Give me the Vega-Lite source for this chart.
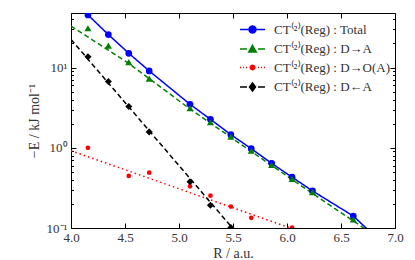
{
  "$schema": "https://vega.github.io/schema/vega-lite/v6.json",
  "width": 324,
  "height": 215,
  "autosize": "none",
  "padding": {"left": 71, "top": 13, "right": 20, "bottom": 32},
  "background": "white",
  "config": {
    "view": {"stroke": "#000", "strokeWidth": 1},
    "font": "Liberation Serif",
    "axis": {"domain": false, "grid": false, "labelFont": "Liberation Serif", "labelFontSize": 13, "labelColor": "#333", "titleFont": "Liberation Serif", "titleFontSize": 14, "titleFontWeight": "normal", "titleColor": "#333", "tickColor": "#000", "tickWidth": 1, "labelFlush": false, "labelOverlap": false}
  },
  "datasets": {
    "pts": [
      {"series": "Total", "R": 4.157, "E": 45.4},
      {"series": "Total", "R": 4.346, "E": 25.8},
      {"series": "Total", "R": 4.535, "E": 15.1},
      {"series": "Total", "R": 4.724, "E": 9.1},
      {"series": "Total", "R": 5.102, "E": 3.49},
      {"series": "Total", "R": 5.291, "E": 2.27},
      {"series": "Total", "R": 5.480, "E": 1.46},
      {"series": "Total", "R": 5.669, "E": 0.976},
      {"series": "Total", "R": 5.858, "E": 0.64},
      {"series": "Total", "R": 6.047, "E": 0.43},
      {"series": "Total", "R": 6.236, "E": 0.29},
      {"series": "Total", "R": 6.614, "E": 0.141},
      {"series": "D→A", "R": 4.157, "E": 31},
      {"series": "D→A", "R": 4.346, "E": 18.8},
      {"series": "D→A", "R": 4.535, "E": 11.7},
      {"series": "D→A", "R": 4.724, "E": 7.3},
      {"series": "D→A", "R": 5.102, "E": 3.11},
      {"series": "D→A", "R": 5.291, "E": 2.08},
      {"series": "D→A", "R": 5.480, "E": 1.38},
      {"series": "D→A", "R": 5.669, "E": 0.92},
      {"series": "D→A", "R": 5.858, "E": 0.61},
      {"series": "D→A", "R": 6.047, "E": 0.41},
      {"series": "D→A", "R": 6.236, "E": 0.28},
      {"series": "D→A", "R": 6.614, "E": 0.128},
      {"series": "D→O(A)", "R": 4.157, "E": 1.0},
      {"series": "D→O(A)", "R": 4.535, "E": 0.446},
      {"series": "D→O(A)", "R": 4.724, "E": 0.49},
      {"series": "D→O(A)", "R": 5.102, "E": 0.331},
      {"series": "D→O(A)", "R": 5.291, "E": 0.253},
      {"series": "D→O(A)", "R": 5.480, "E": 0.185},
      {"series": "D→O(A)", "R": 5.669, "E": 0.134},
      {"series": "D→O(A)", "R": 6.047, "E": 0.101},
      {"series": "D←A", "R": 4.157, "E": 13.7},
      {"series": "D←A", "R": 4.346, "E": 6.7},
      {"series": "D←A", "R": 4.535, "E": 3.27},
      {"series": "D←A", "R": 4.724, "E": 1.58},
      {"series": "D←A", "R": 5.102, "E": 0.378},
      {"series": "D←A", "R": 5.291, "E": 0.192},
      {"series": "D←A", "R": 5.480, "E": 0.101}
    ],
    "fit": [
      {"series": "Total", "R": 4.157, "E": 45.4},
      {"series": "Total", "R": 4.346, "E": 25.8},
      {"series": "Total", "R": 4.535, "E": 15.1},
      {"series": "Total", "R": 4.724, "E": 9.1},
      {"series": "Total", "R": 5.102, "E": 3.49},
      {"series": "Total", "R": 5.291, "E": 2.27},
      {"series": "Total", "R": 5.480, "E": 1.46},
      {"series": "Total", "R": 5.669, "E": 0.976},
      {"series": "Total", "R": 5.858, "E": 0.64},
      {"series": "Total", "R": 6.047, "E": 0.43},
      {"series": "Total", "R": 6.236, "E": 0.29},
      {"series": "Total", "R": 6.614, "E": 0.141},
      {"series": "Total", "R": 6.75, "E": 0.095},
      {"series": "D→A", "R": 4.0, "E": 33},
      {"series": "D→A", "R": 4.535, "E": 11.3},
      {"series": "D→A", "R": 5.102, "E": 3.05},
      {"series": "D→A", "R": 5.669, "E": 0.9},
      {"series": "D→A", "R": 6.236, "E": 0.27},
      {"series": "D→A", "R": 6.72, "E": 0.098},
      {"series": "D→O(A)", "R": 4.0, "E": 0.92},
      {"series": "D→O(A)", "R": 6.04, "E": 0.099},
      {"series": "D←A", "R": 4.0, "E": 22.5},
      {"series": "D←A", "R": 5.5, "E": 0.098}
    ]
  },
  "layer": [
    {
      "data": {"name": "fit"},
      "mark": {"type": "line", "clip": true, "strokeWidth": 1.5},
      "encoding": {
        "x": {"field": "R", "type": "quantitative", "scale": {"domain": [4, 7], "nice": false, "zero": false},
          "axis": {"orient": "bottom", "values": [4, 4.5, 5, 5.5, 6, 6.5, 7], "format": ".1f", "tickSize": -5, "labelPadding": 8, "title": "R / a.u.", "titlePadding": 2}},
        "y": {"field": "E", "type": "quantitative", "scale": {"type": "log", "domain": [0.1, 48], "nice": false},
          "axis": {"orient": "left", "values": [0.1, 1, 10], "tickSize": -5, "labelPadding": 9, "labelExpr": "datum.value > 5 ? '10¹' : datum.value > 0.5 ? '10⁰' : '10⁻¹'", "title": "−E / kJ mol⁻¹", "titlePadding": 5}},
        "color": {"field": "series", "type": "nominal", "scale": {"domain": ["D←A", "D→O(A)", "D→A", "Total"], "range": ["#000000", "#ff0000", "#008000", "#0000ff"]}, "legend": null},
        "strokeDash": {"field": "series", "type": "nominal", "scale": {"domain": ["D←A", "D→O(A)", "D→A", "Total"], "range": [[5, 3], [1.5, 3], [5, 3], [1, 0]]}, "legend": null}
      }
    },
    {
      "data": {"name": "pts"},
      "transform": [{"filter": "datum.series == 'Total' || datum.series == 'D→O(A)'"}],
      "mark": {"type": "point", "shape": "circle", "filled": true, "opacity": 1, "clip": true},
      "encoding": {
        "x": {"field": "R", "type": "quantitative", "axis": {"orient": "top", "values": [4, 4.5, 5, 5.5, 6, 6.5, 7], "tickSize": -5, "labels": false, "title": null}},
        "y": {"field": "E", "type": "quantitative", "axis": {"orient": "right", "values": [0.1, 1, 10], "tickSize": -5, "labels": false, "title": null}},
        "color": {"field": "series", "type": "nominal", "legend": null},
        "size": {"condition": {"test": "datum.series == 'D→O(A)'", "value": 22}, "value": 45}
      }
    },
    {
      "data": {"name": "pts"},
      "transform": [{"filter": "datum.series == 'D→A'"}],
      "mark": {"type": "point", "shape": "triangle-up", "filled": true, "opacity": 1, "clip": true, "size": 50},
      "encoding": {
        "x": {"field": "R", "type": "quantitative", "axis": null},
        "y": {"field": "E", "type": "quantitative", "axis": {"orient": "left", "values": [0.2, 0.3, 0.4, 0.5, 0.6, 0.7, 0.8, 0.9, 2, 3, 4, 5, 6, 7, 8, 9, 20, 30, 40], "tickSize": -2.5, "labels": false, "title": null}},
        "color": {"field": "series", "type": "nominal", "legend": null}
      }
    },
    {
      "data": {"name": "pts"},
      "transform": [{"filter": "datum.series == 'D←A'"}],
      "mark": {"type": "point", "shape": "diamond", "filled": true, "opacity": 1, "clip": true, "size": 50},
      "encoding": {
        "x": {"field": "R", "type": "quantitative", "axis": null},
        "y": {"field": "E", "type": "quantitative", "axis": {"orient": "right", "values": [0.2, 0.3, 0.4, 0.5, 0.6, 0.7, 0.8, 0.9, 2, 3, 4, 5, 6, 7, 8, 9, 20, 30, 40], "tickSize": -2.5, "labels": false, "title": null}},
        "color": {"field": "series", "type": "nominal", "legend": null}
      }
    },
    {
      "data": {"name": "pts"},
      "transform": [{"filter": "datum.E < 0"}],
      "mark": {"type": "point", "filled": true},
      "encoding": {
        "x": {"field": "R", "type": "quantitative", "axis": null},
        "y": {"field": "E", "type": "quantitative", "axis": null},
        "fill": {"field": "series", "type": "nominal", "scale": {"domain": ["Total", "D→A", "D→O(A)", "D←A"], "range": ["#0000ff", "#008000", "#ff0000", "#000000"]},
          "legend": {"orient": "none", "legendX": 175, "legendY": 10, "title": null}},
        "stroke": {"field": "series", "type": "nominal", "scale": {"domain": ["Total", "D→A", "D→O(A)", "D←A"], "range": ["#0000ff", "#008000", "#ff0000", "#000000"]},
          "legend": {"orient": "none", "legendX": 175, "legendY": 10, "title": null}},
        "shape": {"field": "series", "type": "nominal",
          "scale": {"domain": ["Total", "D→A", "D→O(A)", "D←A"], "range": [
            "M-2.5,0L2.5,0M0.7,0L0.606,0.35L0.35,0.606L0,0.7L-0.35,0.606L-0.606,0.35L-0.7,0L-0.606,-0.35L-0.35,-0.606L0,-0.7L0.35,-0.606L0.606,-0.35Z",
            "M-2.5,0L-1.1,0M1.1,0L2.5,0M0,-0.75L0.75,0.6L-0.75,0.6Z",
            "M-2.5,0L-2.3,0M-1.9,0L-1.7,0M-1.3,0L-1.1,0M1.1,0L1.3,0M1.7,0L1.9,0M2.3,0L2.5,0M0.45,0L0.39,0.225L0.225,0.39L0,0.45L-0.225,0.39L-0.39,0.225L-0.45,0L-0.39,-0.225L-0.225,-0.39L0,-0.45L0.225,-0.39L0.39,-0.225Z",
            "M-2.5,0L-1.1,0M1.1,0L2.5,0M0,-0.8L0.6,0L0,0.8L-0.6,0Z"
          ]},
          "legend": {"orient": "none", "legendX": 175, "legendY": 10, "title": null, "padding": 0, "symbolSize": 100, "symbolStrokeWidth": 1.5, "symbolOpacity": 1, "labelFont": "Liberation Serif", "labelFontSize": 13, "labelColor": "#333", "labelOffset": 15, "rowPadding": 4.5, "labelExpr": "'CT⁽²⁾(Reg) : ' + datum.label"}
        }
      }
    }
  ],
  "resolve": {"axis": {"x": "independent", "y": "independent"}}
}
